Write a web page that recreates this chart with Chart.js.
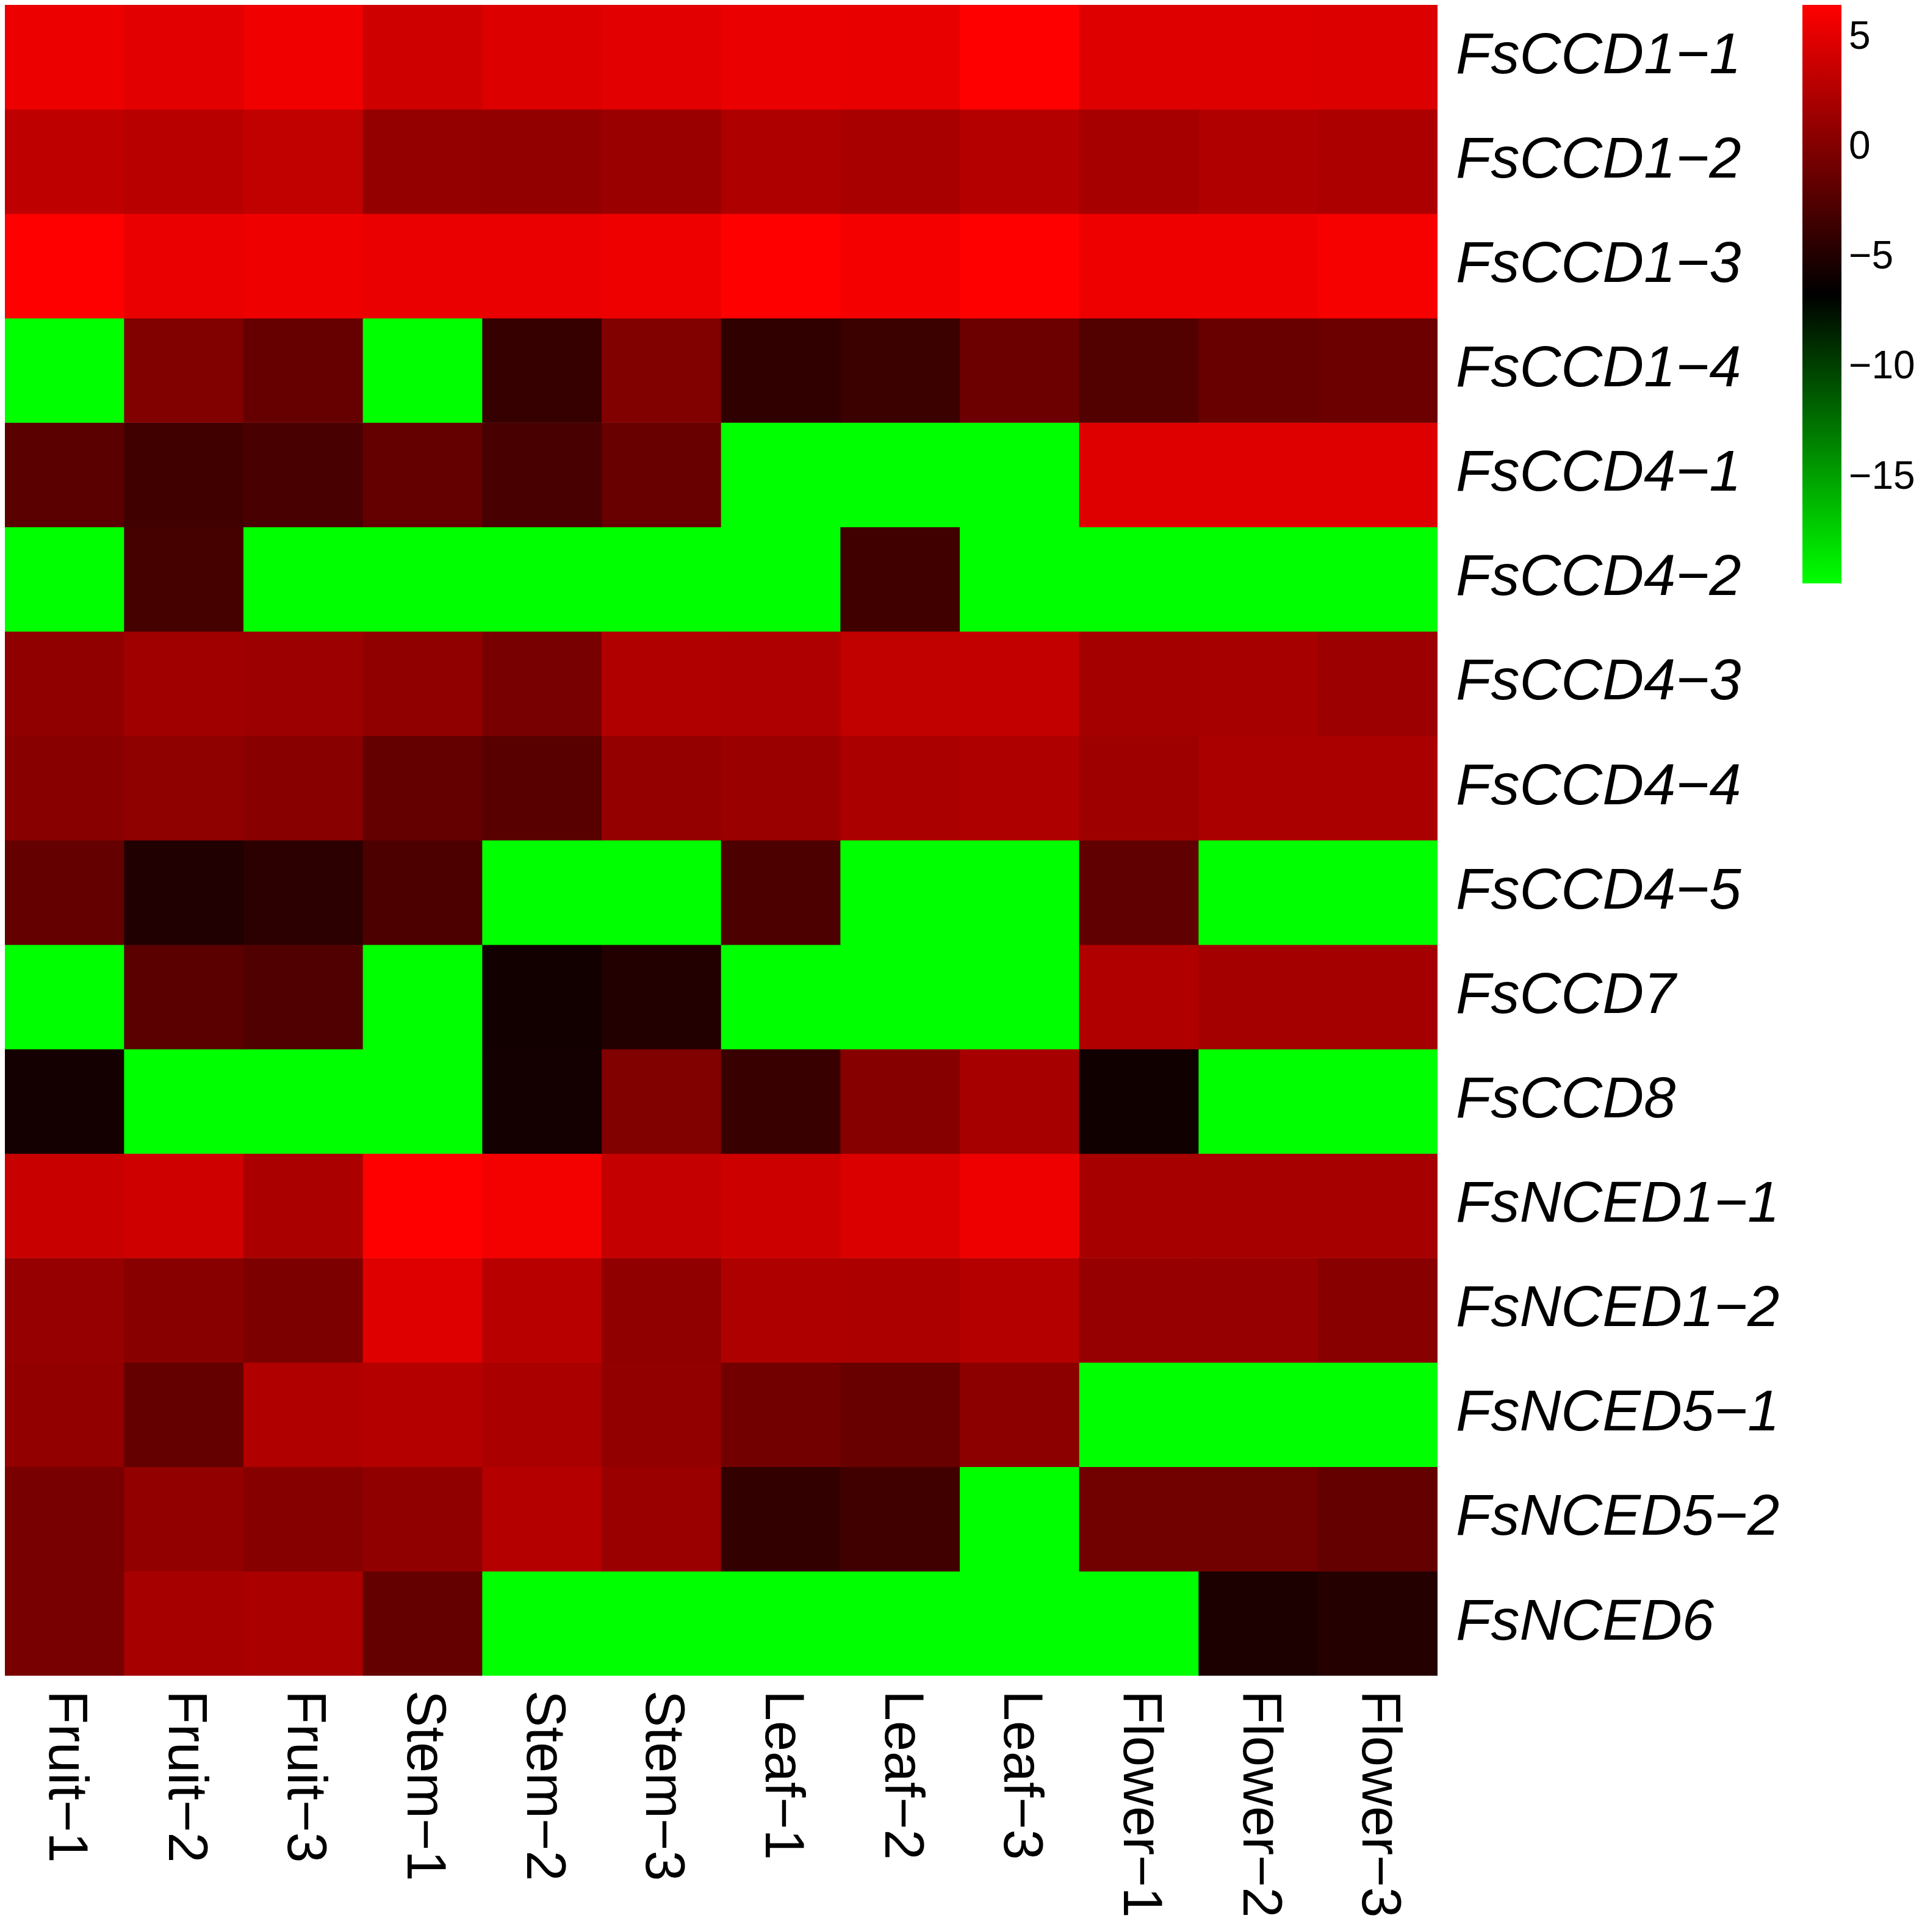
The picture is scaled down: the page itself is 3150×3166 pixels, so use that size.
<!DOCTYPE html>
<html>
<head>
<meta charset="utf-8">
<script src="https://cdn.jsdelivr.net/npm/chart.js@4.4.1/dist/chart.umd.min.js"></script>
<style>
  html, body { margin: 0; padding: 0; background: #fff; }
  #wrap { position: relative; width: 3150px; height: 3166px; }
  #heatmap { position: absolute; left: 0; top: 0; }
  #colorKey { position: absolute; left: 2954px; top: 0; }
</style>
</head>
<body>
<div id="wrap">
  <canvas id="heatmap" width="3150" height="3166"></canvas>
  <canvas id="colorKey" width="198" height="970"></canvas>
</div>
<script>
const samples = ['Fruit−1', 'Fruit−2', 'Fruit−3', 'Stem−1', 'Stem−2', 'Stem−3',
  'Leaf−1', 'Leaf−2', 'Leaf−3', 'Flower−1', 'Flower−2', 'Flower−3'];
const genes = ['FsCCD1−1', 'FsCCD1−2', 'FsCCD1−3', 'FsCCD1−4', 'FsCCD4−1', 'FsCCD4−2',
  'FsCCD4−3', 'FsCCD4−4', 'FsCCD4−5', 'FsCCD7', 'FsCCD8', 'FsNCED1−1', 'FsNCED1−2',
  'FsNCED5−1', 'FsNCED5−2', 'FsNCED6'];

// expression values per gene, one entry per sample (green cells sit at the key minimum)
const fsCCD1_1 = [5.5, 5.0, 5.8, 4.0, 4.7, 5.0, 5.4, 5.3, 6.5, 4.8, 4.8, 4.7];
const fsCCD1_2 = [3.2, 2.9, 3.3, 1.0, 0.9, 1.3, 2.4, 2.0, 2.7, 1.9, 2.5, 2.2];
const fsCCD1_3 = [6.5, 5.4, 5.7, 5.4, 5.4, 5.7, 6.5, 6.0, 6.5, 5.7, 5.7, 6.1];
const fsCCD1_4 = [-19.8, 0.0, -1.4, -19.8, -3.8, 0.0, -4.2, -3.6, -1.1, -2.4, -1.3, -1.1];
const fsCCD4_1 = [-2.0, -3.3, -2.9, -1.5, -2.9, -1.3, -19.8, -19.8, -19.8, 4.8, 4.8, 4.8];
const fsCCD4_2 = [-19.8, -3.1, -19.8, -19.8, -19.8, -19.8, -19.8, -3.3, -19.8, -19.8, -19.8, -19.8];
const fsCCD4_3 = [0.8, 1.6, 1.4, 0.8, -0.4, 2.5, 2.3, 3.3, 3.4, 1.8, 1.9, 1.4];
const fsCCD4_4 = [0.4, 0.7, 0.4, -1.5, -2.1, 1.0, 1.3, 2.1, 2.4, 1.5, 2.1, 2.1];
const fsCCD4_5 = [-1.5, -5.0, -4.4, -2.7, -19.8, -19.8, -2.7, -19.8, -19.8, -1.7, -19.8, -19.8];
const fsCCD7 = [-19.8, -2.0, -2.5, -19.8, -5.7, -4.9, -19.8, -19.8, -19.8, 2.5, 1.8, 1.8];
const fsCCD8 = [-5.6, -19.8, -19.8, -19.8, -5.6, 0.0, -3.7, 0.3, 1.9, -5.8, -19.8, -19.8];
const fsNCED1_1 = [3.7, 4.0, 2.1, 6.5, 5.9, 3.5, 3.9, 4.6, 5.7, 1.9, 1.9, 1.9];
const fsNCED1_2 = [1.1, 0.4, -0.2, 4.8, 2.9, 0.8, 2.4, 2.2, 2.7, 1.1, 1.1, 0.4];
const fsNCED5_1 = [0.9, -1.5, 2.5, 2.7, 2.1, 0.9, -0.7, -1.3, 0.6, -19.8, -19.8, -19.8];
const fsNCED5_2 = [-0.4, 0.9, 0.3, 0.8, 2.7, 1.3, -4.0, -3.3, -19.8, -0.8, -0.8, -1.5];
const fsNCED6 = [-0.4, 1.9, 2.1, -1.5, -19.8, -19.8, -19.8, -19.8, -19.8, -19.8, -5.2, -4.8];

const rows = [fsCCD1_1, fsCCD1_2, fsCCD1_3, fsCCD1_4, fsCCD4_1, fsCCD4_2, fsCCD4_3, fsCCD4_4,
  fsCCD4_5, fsCCD7, fsCCD8, fsNCED1_1, fsNCED1_2, fsNCED5_1, fsNCED5_2, fsNCED6];

// colour key
const keyMin = -19.8;
const keyMax = 6.5;
const keyTicks = [5, 0, -5, -10, -15];

const FONT = 'Arial, "Liberation Sans", sans-serif';

function cellColour(v) {
  const mid = (keyMin + keyMax) / 2;
  if (v >= mid) {
    const r = Math.round(255 * Math.min(1, (v - mid) / (keyMax - mid)));
    return `rgb(${r},0,0)`;
  }
  const g = Math.round(255 * Math.min(1, (mid - v) / (mid - keyMin)));
  return `rgb(0,${g},0)`;
}

// drop the half-label padding Chart.js reserves above/below a vertical axis
function noEndPadding(s) {
  s.paddingTop = 0;
  s.paddingBottom = 0;
}

// sample names run top-to-bottom under each column
const sampleLabels = {
  id: 'sampleLabels',
  afterDraw(chart) {
    const { ctx, chartArea, scales: { x } } = chart;
    ctx.save();
    ctx.font = `90px ${FONT}`;
    ctx.fillStyle = '#000';
    ctx.textAlign = 'left';
    ctx.textBaseline = 'middle';
    samples.forEach((s, i) => {
      ctx.save();
      ctx.translate(x.getPixelForValue(i), chartArea.bottom + 24);
      ctx.rotate(Math.PI / 2);
      ctx.fillText(s, 0, 0);
      ctx.restore();
    });
    ctx.restore();
  }
};

new Chart(document.getElementById('heatmap'), {
  type: 'bar',
  data: {
    labels: samples,
    datasets: rows.map((vals, r) => ({
      label: genes[r],
      data: samples.map(() => [r, r + 1]),
      backgroundColor: vals.map(cellColour),
      grouped: false,
      barPercentage: 1,
      categoryPercentage: 1,
      borderWidth: 0,
      borderSkipped: false
    }))
  },
  options: {
    responsive: false,
    devicePixelRatio: 1,
    animation: false,
    layout: { padding: { left: 8, top: 8, right: 0, bottom: 0 } },
    plugins: { legend: { display: false }, tooltip: { enabled: false } },
    scales: {
      x: {
        type: 'category',
        grid: { display: false },
        border: { display: false },
        ticks: { display: false },
        afterFit: (s) => { s.height = 420; s.paddingLeft = 0; s.paddingRight = 0; }
      },
      y: {
        type: 'linear',
        position: 'right',
        min: 0,
        max: 16,
        reverse: true,
        grid: { display: false },
        border: { display: false },
        afterBuildTicks: (s) => { s.ticks = genes.map((g, i) => ({ value: i + 0.5 })); },
        afterFit: (s) => { s.width = 3150 - 2356; noEndPadding(s); },
        ticks: {
          autoSkip: false,
          padding: 22,
          color: '#000',
          font: { family: FONT, size: 94, style: 'italic' },
          callback: (v, i) => genes[i]
        }
      }
    }
  },
  plugins: [sampleLabels]
});

new Chart(document.getElementById('colorKey'), {
  type: 'bar',
  data: {
    labels: [''],
    datasets: [{
      data: [[keyMin, keyMax]],
      backgroundColor: (c) => {
        const chart = c.chart;
        if (!chart.chartArea) return '#000';
        const ys = chart.scales.y;
        const grad = chart.ctx.createLinearGradient(0, ys.getPixelForValue(keyMin), 0, ys.getPixelForValue(keyMax));
        grad.addColorStop(0, '#00ff00');
        grad.addColorStop(0.5, '#000000');
        grad.addColorStop(1, '#ff0000');
        return grad;
      },
      barPercentage: 1,
      categoryPercentage: 1,
      borderWidth: 0
    }]
  },
  options: {
    responsive: false,
    devicePixelRatio: 1,
    animation: false,
    layout: { padding: { top: 8, bottom: 14 } },
    plugins: { legend: { display: false }, tooltip: { enabled: false } },
    scales: {
      x: { display: false },
      y: {
        position: 'right',
        min: keyMin,
        max: keyMax,
        grid: { display: false, drawTicks: false },
        border: { display: false },
        afterBuildTicks: (s) => { s.ticks = keyTicks.map(v => ({ value: v })); },
        afterFit: (s) => { s.width = 134; noEndPadding(s); },
        ticks: {
          padding: 12,
          color: '#000',
          font: { family: FONT, size: 64 },
          callback: (v) => (v < 0 ? '−' + Math.abs(v) : String(v))
        }
      }
    }
  }
});
</script>
</body>
</html>
